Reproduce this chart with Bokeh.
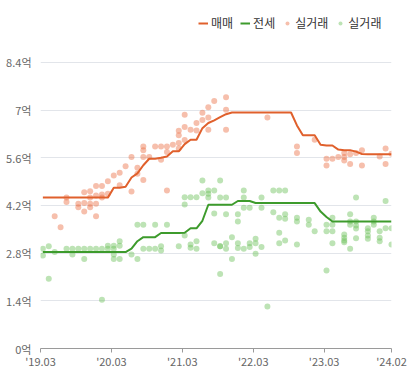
from bokeh.plotting import figure
from bokeh.models import FixedTicker, Legend, LegendItem, Range1d
from bokeh.embed import file_html
from bokeh.resources import INLINE

# ---- data (month index: 0 = 2019.03) ----
months = list(range(60))
sale_line = [4.43, 4.43, 4.43, 4.43, 4.43, 4.43, 4.43, 4.43, 4.43, 4.43, 4.43, 4.43,
             4.72, 4.72, 4.75, 5.02, 5.14, 5.38, 5.57, 5.57, 5.60, 5.64, 5.79, 5.79,
             6.00, 6.13, 6.13, 6.47, 6.62, 6.70, 6.79, 6.88, 6.93,
             6.93, 6.93, 6.93, 6.93, 6.93, 6.93, 6.93, 6.93, 6.93, 6.93,
             6.55, 6.26, 6.26, 6.26, 5.98, 5.96, 5.96, 5.84, 5.82, 5.82, 5.78, 5.71,
             5.70, 5.70, 5.70, 5.70, 5.70]
jeonse_line = [2.83, 2.83, 2.83, 2.83, 2.83, 2.83, 2.83, 2.83, 2.83, 2.83, 2.83, 2.83, 2.83, 2.83, 2.83,
               2.93, 3.15, 3.27, 3.27, 3.27, 3.39, 3.39, 3.39, 3.39, 3.40, 3.53, 3.53, 3.75,
               4.22, 4.22, 4.22, 4.22, 4.22, 4.33, 4.33, 4.33,
               4.27, 4.27, 4.27, 4.27, 4.27, 4.27, 4.27, 4.27, 4.27, 4.27, 4.27,
               4.02, 3.86,
               3.73, 3.73, 3.73, 3.73, 3.73, 3.73, 3.73, 3.73, 3.73, 3.73, 3.73]

sale_pt_month = [2, 3, 4, 4, 6, 6, 7, 7, 7, 8, 8, 8, 8, 9, 9, 9, 9, 10, 10, 10, 11, 11, 12, 13, 13, 14,
                 15, 15, 16, 16, 17, 17, 17, 17, 18, 19, 20, 20, 21, 21, 21, 22, 23, 23, 23, 23,
                 24, 24, 24, 25, 26, 26, 27, 27, 28, 28, 28, 29, 31, 31, 31, 38, 43, 43, 46,
                 48, 48, 49, 50, 51, 51, 51, 52, 52, 53, 54, 54, 57, 58, 58, 59]
sale_pt_price = [3.88, 3.56, 4.43, 4.30, 4.25, 4.15, 4.59, 4.27, 4.02, 4.62, 4.43, 4.25, 4.15,
                 4.77, 4.49, 4.25, 3.88, 4.77, 4.52, 4.43, 4.91, 4.54, 5.08, 5.16, 4.79, 5.35,
                 5.62, 4.61, 5.31, 5.13, 5.93, 5.82, 5.62, 4.95, 5.62, 5.93, 5.93, 5.54, 5.93, 5.77, 4.64,
                 5.98, 6.39, 6.26, 6.03, 5.87, 6.86, 6.50, 6.12, 6.42, 6.62, 6.40, 6.92, 6.71,
                 7.08, 6.78, 6.42, 7.27, 7.38, 7.01, 6.42, 6.78, 5.93, 5.74, 6.13,
                 5.57, 5.37, 5.57, 5.62, 5.74, 5.62, 5.52, 5.70, 5.42, 5.74, 5.82, 5.37, 5.64, 5.87, 5.42, 5.72]

jeonse_pt_month = [0, 0, 1, 1, 2, 4, 5, 5, 6, 7, 7, 8, 9, 10, 10, 11, 11, 12, 12, 12, 12, 13, 13, 13,
                   15, 16, 16, 17, 17, 18, 19, 19, 20, 20, 21, 23, 24, 24, 24, 25, 25, 25, 26, 26, 26,
                   27, 27, 28, 28, 28, 29, 29, 29, 30, 30, 30, 30, 30, 31, 31, 31, 31, 32, 32,
                   33, 33, 33, 33, 34, 34, 34, 34, 35, 35, 35, 36, 36, 36, 37, 37, 37, 38, 39, 39,
                   40, 40, 40, 40, 41, 41, 41, 41, 43, 43, 43, 45, 45, 46, 48, 48, 48, 49, 49, 49, 49,
                   51, 51, 51, 51, 52, 52, 52, 52, 53, 53, 53, 53, 53, 55, 55, 55, 55, 56, 56, 56,
                   57, 57, 57, 58, 58, 59, 59]
jeonse_pt_price = [2.93, 2.73, 3.00, 2.05, 2.83, 2.93, 2.93, 2.76, 2.93, 2.93, 2.63, 2.93, 2.93, 2.93, 1.43,
                   3.02, 2.93, 3.02, 2.93, 2.76, 2.63, 3.15, 3.02, 2.63,
                   2.76, 3.63, 2.63, 3.63, 2.93, 2.93, 3.63, 2.93, 3.00, 2.88, 3.63, 3.00,
                   4.44, 4.23, 3.32, 4.44, 3.05, 2.96, 4.44, 3.15, 2.93,
                   4.93, 4.56, 4.64, 4.54, 4.43, 4.64, 3.96, 3.09, 4.93, 4.43, 3.00, 3.00, 2.19,
                   4.43, 3.94, 3.09, 2.93, 3.27, 2.63,
                   3.94, 3.73, 3.09, 2.95, 4.64, 4.43, 4.13, 2.93, 4.13, 3.09, 2.98, 3.22, 3.09, 2.78,
                   4.43, 4.13, 2.98, 1.23, 4.64, 4.00,
                   4.64, 3.84, 3.40, 3.09, 4.64, 3.94, 3.81, 3.17, 3.84, 3.73, 3.05, 3.78, 3.63, 3.44,
                   3.63, 3.44, 2.29, 3.84, 3.63, 3.44, 3.09,
                   3.35, 3.25, 3.17, 3.12, 3.94, 3.73, 3.63, 2.93, 4.43, 3.73, 3.61, 3.52, 3.24,
                   3.53, 3.44, 3.32, 3.22, 3.84, 3.73, 3.63,
                   3.44, 3.25, 3.15, 4.33, 3.53, 3.53, 3.05]

x_tick_pos = [0, 12, 24, 36, 48, 59.4]
x_tick_labels = ["'19.03", "'20.03", "'21.03", "'22.03", "'23.03", "'24.02"]
y_tick_pos = [0, 1.4, 2.8, 4.2, 5.6, 7.0, 8.4]
y_tick_labels = ["0억", "1.4억", "2.8억", "4.2억", "5.6억", "7억", "8.4억"]

MID = 0.4      # records sit inside their month
Y_TOP = 10.1   # headroom above 8.4 where the legend sits

FONT = "Noto Sans CJK KR"
SALE_LINE = "#e0602c"
JEONSE_LINE = "#3d9b2c"
SALE_PT = "#ec7048"
JEONSE_PT = "#6cc05a"

p = figure(width=407, height=374, output_backend="svg", toolbar_location=None,
           x_range=Range1d(0, 59.4), y_range=Range1d(0, Y_TOP),
           min_border_left=40, min_border_right=16, min_border_top=4, min_border_bottom=26)
p.outline_line_color = None
p.background_fill_color = "white"
p.border_fill_color = "white"

sx = [m + MID for m in sale_pt_month]
jx = [m + MID for m in jeonse_pt_month]
lx = [m + MID for m in months]

r_sp = p.scatter(sx, sale_pt_price, size=6, fill_color=SALE_PT, fill_alpha=0.45, line_color=None)
r_jp = p.scatter(jx, jeonse_pt_price, size=6, fill_color=JEONSE_PT, fill_alpha=0.45, line_color=None)
r_sl = p.line(lx, sale_line, line_color=SALE_LINE, line_width=2)
r_jl = p.line(lx, jeonse_line, line_color=JEONSE_LINE, line_width=2)

# axes
p.xaxis.ticker = FixedTicker(ticks=x_tick_pos)
p.xaxis.major_label_overrides = dict(zip(x_tick_pos, x_tick_labels))
p.xaxis.axis_line_color = "#9a9a9a"
p.xaxis.major_tick_line_color = "#9a9a9a"
p.xaxis.major_tick_out = 4
p.xaxis.major_tick_in = 0
p.xaxis.minor_tick_line_color = None
p.xaxis.major_label_standoff = 0
p.xaxis.major_label_text_font = FONT
p.xaxis.major_label_text_font_size = "11px"
p.xaxis.major_label_text_color = "#666666"

p.yaxis.ticker = FixedTicker(ticks=y_tick_pos)
p.yaxis.major_label_overrides = dict(zip(y_tick_pos, y_tick_labels))
p.yaxis.axis_line_color = None
p.yaxis.major_tick_line_color = None
p.yaxis.minor_tick_line_color = None
p.yaxis.major_tick_out = 0
p.yaxis.major_tick_in = 0
p.yaxis.major_label_standoff = 9
p.yaxis.major_label_text_font = FONT
p.yaxis.major_label_text_font_size = "11px"
p.yaxis.major_label_text_color = "#666666"

p.xgrid.grid_line_color = None
p.ygrid.ticker = FixedTicker(ticks=y_tick_pos)
p.ygrid.grid_line_color = "#e2e5ea"
p.ygrid.grid_line_width = 1

legend = Legend(items=[
    LegendItem(label="매매", renderers=[r_sl]),
    LegendItem(label="전세", renderers=[r_jl]),
    LegendItem(label="실거래", renderers=[r_sp]),
    LegendItem(label="실거래", renderers=[r_jp]),
], orientation="horizontal", location=(158, 317))
legend.background_fill_alpha = 0
legend.border_line_alpha = 0
legend.padding = 0
legend.margin = 0
legend.spacing = 7
legend.label_standoff = 3
legend.glyph_width = 10
legend.glyph_height = 16
legend.label_height = 16
legend.label_text_font = FONT
legend.label_text_font_size = "12px"
legend.label_text_color = "#333333"
p.add_layout(legend, "center")

open("out.html", "w").write(file_html(p, INLINE))
